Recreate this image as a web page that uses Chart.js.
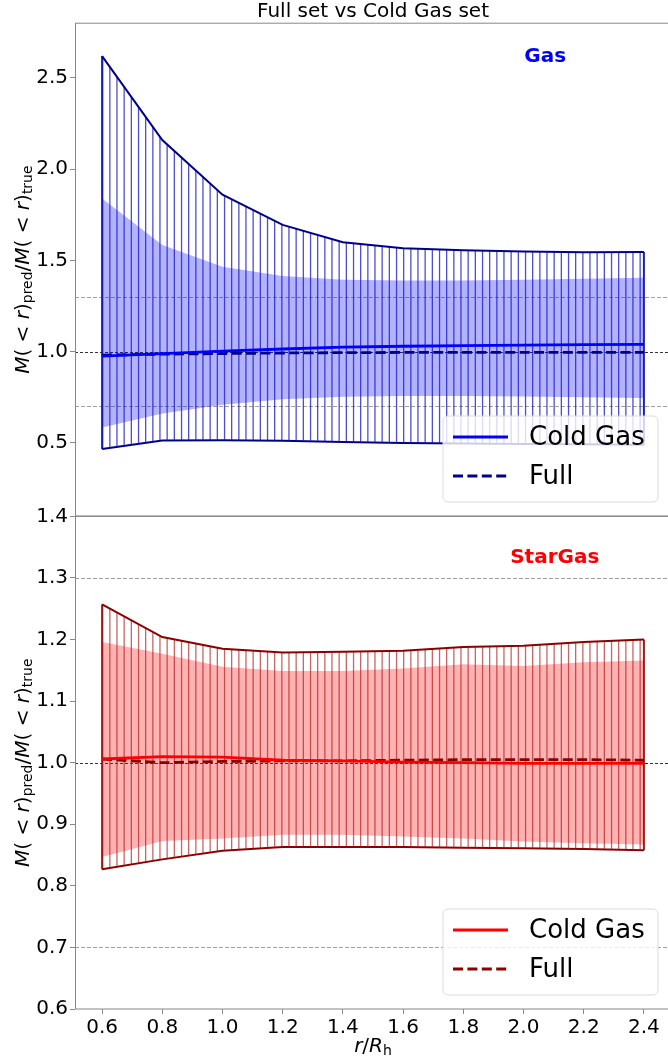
<!DOCTYPE html>
<html>
<head>
<meta charset="utf-8">
<script src="https://cdn.jsdelivr.net/npm/chart.js@4.4.0/dist/chart.umd.min.js"></script>
<style>
  html, body { margin: 0; padding: 0; background: #fff; overflow: hidden; width: 668px; height: 1059px; }
  canvas { position: absolute; left: 0; }
  #gasChart { top: 0; }
  #starChart { top: 500px; }
</style>
</head>
<body>
<canvas id="starChart" width="672" height="559"></canvas>
<canvas id="gasChart" width="672" height="530"></canvas>
<script>
// r / R_h sample points (shared x axis)
const radii = [0.6, 0.8, 1.0, 1.2, 1.4, 1.6, 1.8, 2.0, 2.2, 2.4];

// Gas panel
const gasCold = [0.976, 0.99, 1.003, 1.015, 1.025, 1.03, 1.033, 1.036, 1.039, 1.04];
const gasFull = [0.981, 0.987, 0.99, 0.993, 0.995, 0.996, 0.997, 0.997, 0.996, 0.996];
const gasColdHi = [1.84, 1.585, 1.465, 1.415, 1.395, 1.39, 1.39, 1.395, 1.40, 1.405];
const gasColdLo = [0.585, 0.662, 0.71, 0.74, 0.754, 0.757, 0.757, 0.755, 0.75, 0.747];
const gasFullHi = [2.62, 2.16, 1.86, 1.695, 1.60, 1.567, 1.556, 1.549, 1.545, 1.547];
const gasFullLo = [0.467, 0.514, 0.515, 0.512, 0.505, 0.50, 0.497, 0.495, 0.493, 0.49];
const gasTicks = [0.5, 1.0, 1.5, 2.0, 2.5];

// StarGas panel
const starCold = [1.006, 1.01, 1.009, 1.004, 1.003, 1.001, 1.0, 0.999, 0.999, 0.999];
const starFull = [1.006, 1.0, 1.002, 1.003, 1.003, 1.004, 1.005, 1.005, 1.005, 1.004];
const starColdHi = [1.196, 1.177, 1.156, 1.149, 1.149, 1.153, 1.16, 1.157, 1.163, 1.166];
const starColdLo = [0.847, 0.873, 0.877, 0.883, 0.883, 0.88, 0.877, 0.872, 0.869, 0.867];
const starFullHi = [1.257, 1.204, 1.185, 1.179, 1.18, 1.182, 1.188, 1.19, 1.196, 1.20];
const starFullLo = [0.827, 0.843, 0.857, 0.863, 0.863, 0.863, 0.862, 0.861, 0.86, 0.858];
const starTicks = [0.6, 0.7, 0.8, 0.9, 1.0, 1.1, 1.2, 1.3, 1.4];

const refLines = [1.3, 0.7];
const unity = 1.0;

const FONT = '"DejaVu Sans", Verdana, sans-serif';

const pts = ys => radii.map((x, i) => ({ x, y: ys[i] }));
const edge = (hi, lo, i) => [{ x: radii[i], y: lo[i] }, { x: radii[i], y: hi[i] }];

// vertical-line hatch, ~7.2px spacing
function hatch(target, color) {
  const c = document.createElement('canvas');
  c.width = 43; c.height = 8;
  const g = c.getContext('2d');
  g.fillStyle = color;
  [1.7, 8.9, 16, 23.2, 30.3, 37.5].forEach(x => g.fillRect(x, 0, 1.3, 8));
  return target.getContext('2d').createPattern(c, 'repeat');
}

// draws text runs: i = italic, s = subscript
function drawMath(ctx, parts, size) {
  const widths = parts.map(([t, k]) => {
    ctx.font = (k === 'i' ? 'italic ' : '') + (k === 's' ? size * 0.7 : size) + 'px ' + FONT;
    return ctx.measureText(t).width;
  });
  let x = -widths.reduce((a, b) => a + b, 0) / 2;
  parts.forEach(([t, k], i) => {
    ctx.font = (k === 'i' ? 'italic ' : '') + (k === 's' ? size * 0.7 : size) + 'px ' + FONT;
    ctx.fillText(t, x, k === 's' ? size * 0.22 : 0);
    x += widths[i];
  });
}

const yLabel = [['M', 'i'], ['( < ', ''], ['r', 'i'], [')', ''], ['pred', 's'], ['/', ''],
                ['M', 'i'], ['( < ', ''], ['r', 'i'], [')', ''], ['true', 's']];
const xLabel = [['r', 'i'], ['/', ''], ['R', 'i'], ['h', 's']];

const panelDecor = {
  id: 'panelDecor',
  beforeDatasetsDraw(chart, args, o) {
    const { ctx, chartArea: a, scales: { y } } = chart;
    ctx.save();
    ctx.lineWidth = 1;
    ctx.setLineDash([4, 2]);
    ctx.strokeStyle = 'rgba(128,128,128,0.75)';
    refLines.forEach(v => {
      const py = Math.round(y.getPixelForValue(v)) + 0.5;
      ctx.beginPath(); ctx.moveTo(a.left, py); ctx.lineTo(a.right, py); ctx.stroke();
    });
    ctx.setLineDash([3, 2]);
    ctx.strokeStyle = 'rgba(0,0,0,0.8)';
    const py = Math.round(y.getPixelForValue(unity)) + 0.5;
    ctx.beginPath(); ctx.moveTo(a.left, py); ctx.lineTo(a.right, py); ctx.stroke();
    ctx.restore();
  },
  afterDraw(chart, args, o) {
    const { ctx, chartArea: a } = chart;
    ctx.save();
    // frame
    ctx.strokeStyle = '#888';
    ctx.lineWidth = 1;
    ctx.strokeRect(a.left + 0.5, a.top, a.right - a.left, a.bottom - a.top);

    // panel tag
    ctx.fillStyle = o.tagColor;
    ctx.font = 'bold 20px ' + FONT;
    ctx.textAlign = 'center';
    ctx.textBaseline = 'middle';
    ctx.fillText(o.tag, a.left + o.tagX * (a.right - a.left), a.top + o.tagY);

    // legend
    const items = chart.data.datasets.filter(d => d.inLegend);
    const w = 215, h = 86;
    const x0 = a.right - 13 - w, y0 = a.bottom - 14 - h;
    ctx.beginPath();
    ctx.roundRect(x0, y0, w, h, 5);
    ctx.fillStyle = 'rgba(255,255,255,0.8)';
    ctx.fill();
    ctx.strokeStyle = '#dcdcdc';
    ctx.stroke();
    items.forEach((d, i) => {
      const yy = y0 + 21 + i * 39;
      ctx.beginPath();
      ctx.setLineDash(d.borderDash || []);
      ctx.strokeStyle = d.borderColor;
      ctx.lineWidth = d.borderWidth;
      ctx.moveTo(x0 + 10, yy); ctx.lineTo(x0 + 65, yy); ctx.stroke();
      ctx.setLineDash([]);
      ctx.fillStyle = '#000';
      ctx.font = '26px ' + FONT;
      ctx.textAlign = 'left';
      ctx.fillText(d.label, x0 + 86, yy + 1);
    });

    // y axis title
    ctx.fillStyle = '#000';
    ctx.textAlign = 'left';
    ctx.save();
    ctx.translate(24, (a.top + a.bottom) / 2);
    ctx.rotate(-Math.PI / 2);
    drawMath(ctx, yLabel, 20);
    ctx.restore();

    if (o.title) {
      ctx.font = '20px ' + FONT;
      ctx.textAlign = 'center';
      ctx.fillText(o.title, (a.left + a.right) / 2, 12);
    }
    if (o.xTitle) {
      ctx.save();
      ctx.translate((a.left + a.right) / 2, a.bottom + 38);
      drawMath(ctx, xLabel, 20);
      ctx.restore();
    }
    ctx.restore();
  }
};

function makePanel(id, d, opt) {
  const el = document.getElementById(id);
  const line = (data, color, extra) => Object.assign({
    data, borderColor: color, borderWidth: 2, pointRadius: 0, tension: 0, fill: false
  }, extra);
  return new Chart(el, {
    type: 'line',
    data: {
      datasets: [
        line(pts(d.cold), d.coldColor, { label: 'Cold Gas', borderWidth: 2.8, order: 0, inLegend: true }),
        line(pts(d.full), d.dark, { label: 'Full', borderWidth: 2.8, borderDash: [10, 4.4], order: 1, inLegend: true }),
        line(pts(d.fullHi), d.dark, { fill: 3, backgroundColor: hatch(el, d.hatchColor), order: 3 }),
        line(pts(d.fullLo), d.dark, { order: 3 }),
        line(pts(d.coldHi), 'rgba(0,0,0,0)', { borderWidth: 0, fill: 5, backgroundColor: d.shade, order: 5 }),
        line(pts(d.coldLo), 'rgba(0,0,0,0)', { borderWidth: 0, order: 5 }),
        line(edge(d.fullHi, d.fullLo, 0), d.edgeColor, { order: 3 }),
        line(edge(d.fullHi, d.fullLo, radii.length - 1), d.edgeColor, { order: 3 })
      ]
    },
    options: {
      responsive: false,
      animation: false,
      layout: { padding: opt.padding },
      plugins: {
        legend: { display: false },
        tooltip: { enabled: false },
        panelDecor: opt.decor
      },
      scales: {
        x: {
          type: 'linear', min: 0.51, max: 2.49,
          display: opt.showX,
          afterBuildTicks: s => { s.ticks = radii.map(v => ({ value: v })); },
          afterFit: s => { if (opt.showX) s.height = 50; },
          border: { display: false },
          grid: { drawOnChartArea: false, drawTicks: true, tickLength: 5, color: '#888' },
          ticks: { padding: 2, color: '#000', font: { family: FONT, size: 20 }, maxRotation: 0,
                   callback: v => v.toFixed(1) }
        },
        y: {
          type: 'linear', min: opt.yMin, max: opt.yMax,
          afterBuildTicks: s => { s.ticks = opt.yTicks.map(v => ({ value: v })); },
          afterFit: s => { s.width = 75; },
          border: { display: false },
          grid: { drawOnChartArea: false, drawTicks: true, tickLength: 5, color: '#888' },
          ticks: { padding: 2, color: '#000', font: { family: FONT, size: 20 },
                   callback: v => v.toFixed(1) }
        }
      }
    },
    plugins: [panelDecor]
  });
}

makePanel('gasChart', {
  cold: gasCold, full: gasFull, coldHi: gasColdHi, coldLo: gasColdLo, fullHi: gasFullHi, fullLo: gasFullLo,
  coldColor: '#0000ff', dark: '#00008b', edgeColor: '#1f1fb4',
  hatchColor: 'rgba(20,20,190,0.75)', shade: 'rgba(0,0,255,0.3)'
}, {
  padding: { top: 23.2, bottom: 13.6, left: 0, right: 1 },
  showX: false, yMin: 0.1, yMax: 2.8, yTicks: gasTicks,
  decor: { tag: 'Gas', tagColor: '#0000ff', tagX: 0.789, tagY: 34, title: 'Full set vs Cold Gas set' }
});

makePanel('starChart', {
  cold: starCold, full: starFull, coldHi: starColdHi, coldLo: starColdLo, fullHi: starFullHi, fullLo: starFullLo,
  coldColor: '#ff0000', dark: '#8b0000', edgeColor: '#a01818',
  hatchColor: 'rgba(170,20,20,0.65)', shade: 'rgba(255,0,0,0.3)'
}, {
  padding: { top: 16.4, bottom: 0, left: 0, right: 1 },
  showX: true, yMin: 0.6, yMax: 1.4, yTicks: starTicks,
  decor: { tag: 'StarGas', tagColor: '#ff0000', tagX: 0.805, tagY: 41.6, xTitle: true }
});
</script>
</body>
</html>
